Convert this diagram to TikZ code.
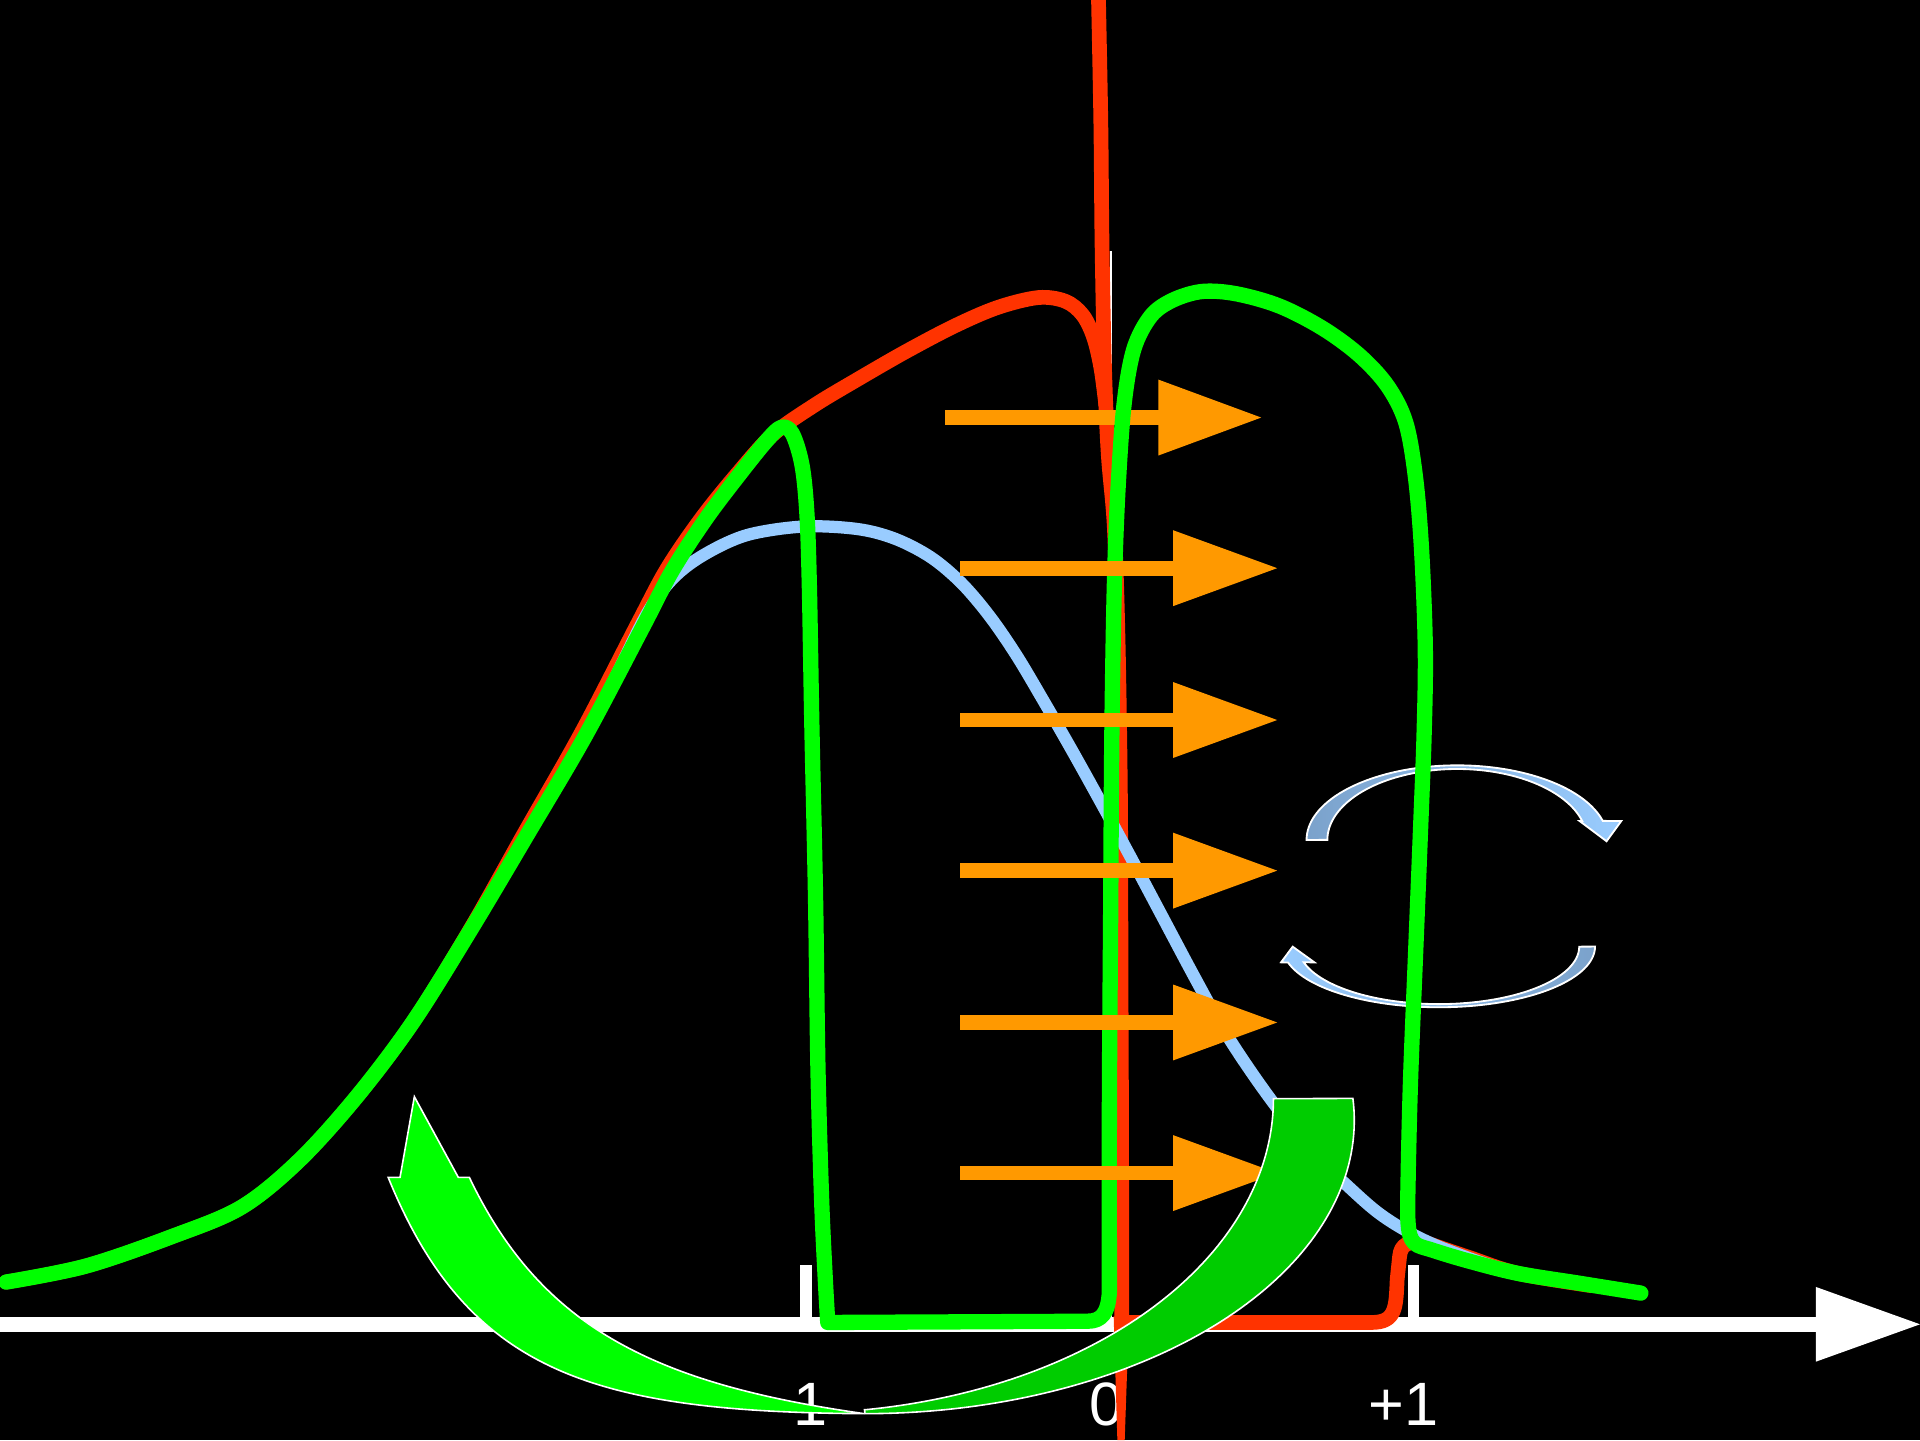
\documentclass[tikz,border=0pt]{standalone}
\usepackage{fontspec}
\setmainfont{Liberation Sans}
\definecolor{cgreen}{HTML}{00FF00}
\definecolor{cdkgreen}{HTML}{00CC00}
\definecolor{cred}{HTML}{FF3300}
\definecolor{corange}{HTML}{FF9900}
\definecolor{cblue}{HTML}{99CCFF}
\definecolor{csteel}{HTML}{7BA2CB}
\tikzset{
  curvegreen/.style={draw=cgreen, line width=12.5pt, line cap=round, line join=round},
  curvered/.style={draw=cred, line width=12pt, line cap=round, line join=round},
  curveblue/.style={draw=cblue, line width=10pt, line cap=round, line join=round},
  bigarrow/.style={draw=white, line width=1.3pt, line join=miter},
  turnarrow/.style={draw=white, line width=1.5pt, line join=miter},
  lbl/.style={text=white, anchor=base, inner sep=0pt, font=\fontsize{50}{60}\selectfont},
  axisfill/.style={fill=white},
}
\begin{document}
\begin{tikzpicture}[x=1pt,y=-1pt]
\useasboundingbox (0,0) rectangle (1568,1176);
\fill[black] (0,0) rectangle (1568,1176);

% thin vertical axis
\draw[white, line width=1.8pt] (907,205) -- (907,1076);
% horizontal axis with head
\fill[axisfill] (0,1075.5) rectangle (1486,1088);
\fill[axisfill] (1483,1051) -- (1568,1081.5) -- (1483,1112) -- cycle;
% ticks
\fill[axisfill] (653,1033) rectangle (663.5,1080);
\fill[axisfill] (1149.5,1033) rectangle (1159,1080);
\draw[white, line width=1.8pt] (902,1033) -- (902,1080);

% labels
\node[lbl] (lminus) at (662,1164) {1};
\node[lbl] (lzero) at (904,1164) {0};
\node[lbl] (lplus) at (1146,1164) {+1};

% red curve
\draw[curvered] plot[smooth, tension=0.55] coordinates {(5,1047) (70,1034) (140,1010) (197,986) (244,948) (291,896) (337,835) (384,759) (429,679) (475,598) (521,509) (545,464) (573,423) (602,387) (631,355) (665,331) (700,310) (740,287) (780,266) (815,251) (848,243) (870,246) (884,257) (893,275) (899,300) (903,330)};
\draw[curvered] plot[smooth, tension=0.55] coordinates {(897,-5) (899,100) (900,200) (902,300) (905,370) (910,430) (913,520) (915,650) (915.5,800) (916,950) (916,1080)};
\fill[cred] (909.5,1075) -- (922,1075) -- (918.5,1176) -- (912.5,1176) -- cycle;
\draw[curvered] (916,1080) -- (1120,1080) .. controls (1140,1080) and (1140,1068) .. (1141,1045) -- (1143,1026) .. controls (1144,1016) and (1150,1014) .. (1162,1014) -- plot[smooth, tension=0.55] coordinates {(1162,1014) (1200,1027) (1240,1040) (1300,1050)};

% light blue curve
\draw[curveblue] plot[smooth, tension=0.55] coordinates {(478,601) (503,552) (529,500) (550,472) (575,453) (610,437) (656,430) (700,432) (731,440) (760,455) (785,476) (808,503) (830,535) (852,572) (875,612) (900,657) (925,703) (950,750) (975,797) (1000,842) (1025,880) (1050,914) (1075,944) (1100,968) (1125,990) (1150,1006) (1180,1020) (1230,1037) (1290,1048) (1336,1055)};

% top orange arrow (under the green curve)
\fill[corange] (772,335) rectangle (947,347);
\fill[corange] (946,310) -- (1030,341) -- (946,372) -- cycle;

% turning arrows
\path[turnarrow, left color=csteel, right color=cblue]
  plot[variable=\t, domain=0:1, samples=70] ({1190+123*cos(180-165.3*\t)},{686-61*sin(180-165.3*\t)})
  -- (1324,670.5) -- (1312,687) -- (1290,670.5)
  -- plot[variable=\t, domain=0:1, samples=70] ({1190+106*cos(15.5+164.5*\t)},{686-58*sin(15.5+164.5*\t)})
  -- cycle;
\path[turnarrow, left color=cblue, right color=csteel]
  plot[variable=\t, domain=0:1, samples=70] ({1175+127.6*cos(164.9*\t)},{773+49.6*sin(164.9*\t)})
  -- (1046.2,785.9) -- (1055.7,773.1) -- (1073.4,785.9)
  -- plot[variable=\t, domain=0:1, samples=70] ({1175+114.7*cos(164.1-164.1*\t)},{773+47*sin(164.1-164.1*\t)})
  -- cycle;

% green curve
\draw[curvegreen] plot[smooth, tension=0.55] coordinates {(5,1047) (70,1034) (140,1010) (197,986) (244,948) (291,896) (337,835) (384,760) (431,681) (478,601) (525,512) (549,466) (577,423) (605,386) (626,360) (638,349) (647,354) (655,380) (659,420) (661,480) (663,592) (666,732) (668,873) (671,980) (674,1045) (676,1080)}
  -- (888,1079) .. controls (900,1079) and (905,1072) .. (906,1055)
  -- plot[smooth, tension=0.55] coordinates {(906,1055) (906,900) (907,750) (908,600) (910,480) (913,400) (918,330) (926,285) (940,258) (958,245) (982,238) (1010,240) (1045,250) (1080,268) (1110,290) (1133,315) (1148,345) (1156,390) (1161,450) (1164,530) (1163,600) (1160,680) (1156,780) (1152,880) (1150,960) (1150,1000) (1155,1015) (1170,1021) (1200,1030) (1240,1040) (1290,1048) (1340,1056)};

% lower orange arrows (over the curves)
\foreach \yy in {464,588,711,835,958} {
  \fill[corange] (784,\yy-6) rectangle (959,\yy+6);
  \fill[corange] (958,\yy-31) -- (1043,\yy) -- (958,\yy+31) -- cycle;
}

% big U-turn arrow, dark green half
\path[bigarrow, fill=cdkgreen]
  plot[variable=\t, domain=0:1, samples=80] ({706+400*cos(-4.31+94.31*\t)},{915+239.5*sin(-4.31+94.31*\t)})
  -- (706,1151.3)
  -- plot[variable=\t, domain=0:1, samples=80] ({650+390*cos(81.7-81.7*\t)},{897+257*sin(81.7-81.7*\t)})
  -- cycle;
% big U-turn arrow, light green half with head
\path[bigarrow, fill=cgreen]
  (317,961.5) .. controls (381.8,1120.8) and (484,1153) .. (706,1154.5)
  .. controls (532.8,1130) and (441.3,1083) .. (383.3,961.5)
  -- (374.3,961.5) -- (338.4,895.6) -- (326.7,961.5) -- cycle;
\end{tikzpicture}
\end{document}
